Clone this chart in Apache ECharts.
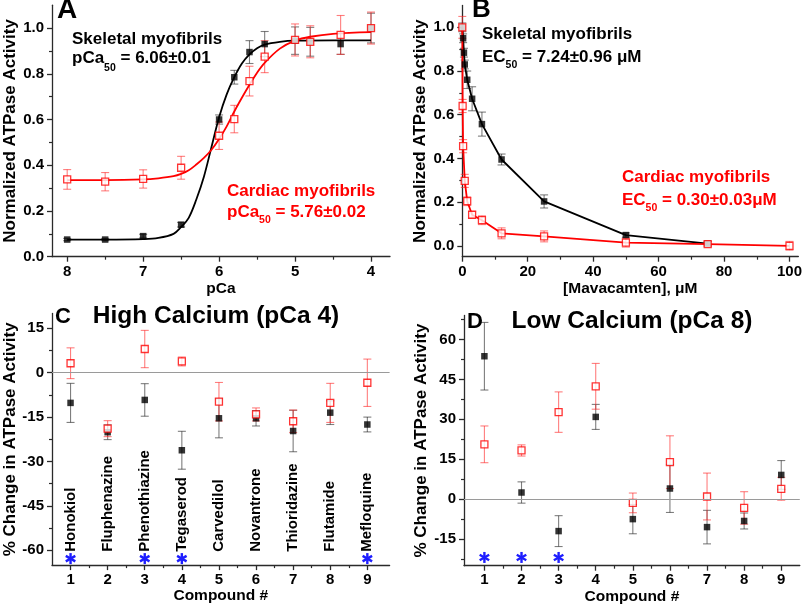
<!DOCTYPE html>
<html><head><meta charset="utf-8">
<script src="https://cdn.jsdelivr.net/npm/echarts@6/dist/echarts.min.js"></script>
<style>html,body{margin:0;padding:0;background:#fff}#c{width:805px;height:607px}</style>
</head><body><div id="c"></div>
<script>
// ---------- Panel A : ATPase vs pCa ----------
const pCaA      = [8, 7.5, 7, 6.5, 6, 5.8, 5.6, 5.4, 5, 4.8, 4.4, 4];
const skelA     = [0.075, 0.075, 0.09, 0.14, 0.60, 0.785, 0.895, 0.93, 0.945, 0.94, 0.93, 1.0];
const skelAErr  = [0.005, 0.005, 0.008, 0.01, 0.02, 0.03, 0.05, 0.055, 0.06, 0.063, 0.045, 0.065];
const cardA     = [0.338, 0.328, 0.34, 0.389, 0.529, 0.602, 0.768, 0.875, 0.948, 0.94, 0.97, 1.0];
const cardAErr  = [0.043, 0.04, 0.04, 0.05, 0.06, 0.06, 0.065, 0.07, 0.07, 0.07, 0.085, 0.07];
const skelFitX  = [8, 7.5, 7, 6.8, 6.6, 6.5, 6.4, 6.3, 6.2, 6.1, 6.0, 5.9, 5.8, 5.7, 5.6, 5.5, 5.4, 5.2, 5.0, 4.5, 4.0];
const skelFitY  = [0.075, 0.075, 0.077, 0.082, 0.1, 0.13, 0.17, 0.25, 0.35, 0.48, 0.61, 0.71, 0.785, 0.845, 0.885, 0.912, 0.928, 0.94, 0.945, 0.946, 0.946];
const cardFitX  = [8, 7.5, 7, 6.8, 6.6, 6.5, 6.4, 6.3, 6.2, 6.1, 6.0, 5.9, 5.8, 5.7, 5.6, 5.5, 5.4, 5.2, 5.0, 4.8, 4.5, 4.0];
const cardFitY  = [0.335, 0.335, 0.338, 0.343, 0.352, 0.362, 0.378, 0.403, 0.432, 0.468, 0.515, 0.57, 0.635, 0.695, 0.752, 0.805, 0.848, 0.91, 0.945, 0.962, 0.975, 0.982];
const ticksA_x  = [4, 5, 6, 7, 8];
const minorA_x  = [4.5, 5.5, 6.5, 7.5];
const ticksA_y  = [0, 0.2, 0.4, 0.6, 0.8, 1.0];
const minorA_y  = [0.1, 0.3, 0.5, 0.7, 0.9];

// ---------- Panel B : ATPase vs Mavacamten ----------
const mavaSkel  = [0, 0.25, 0.5, 0.75, 1.5, 3, 6, 12, 25, 50, 75];
const skelB     = [1.0, 0.95, 0.884, 0.83, 0.76, 0.673, 0.557, 0.395, 0.203, 0.049, 0.01];
const skelBErr  = [0.02, 0.02, 0.02, 0.02, 0.04, 0.055, 0.055, 0.025, 0.03, 0.01, 0.01];
const mavaCard  = [0, 0.1, 0.25, 0.75, 1.5, 3, 6, 12, 25, 50, 75, 100];
const cardB     = [1.0, 0.64, 0.456, 0.297, 0.204, 0.142, 0.117, 0.057, 0.043, 0.014, 0.008, 0.0];
const cardBErr  = [0.05, 0.03, 0.03, 0.03, 0.02, 0.015, 0.02, 0.025, 0.025, 0.02, 0.01, 0.02];
const ticksB_x  = [0, 20, 40, 60, 80, 100];
const minorB_x  = [10, 30, 50, 70, 90];
const ticksB_y  = [0, 0.2, 0.4, 0.6, 0.8, 1.0];
const minorB_y  = [0.1, 0.3, 0.5, 0.7, 0.9];

// ---------- Panels C / D : compound screen ----------
const compounds     = [1, 2, 3, 4, 5, 6, 7, 8, 9];
const compoundNames = ['Honokiol', 'Fluphenazine', 'Phenothiazine', 'Tegaserod', 'Carvedilol', 'Novantrone', 'Thioridazine', 'Flutamide', 'Mefloquine'];
const skelC     = [-10.2, -20.1, -9.2, -26.2, -15.4, -15.4, -19.7, -13.5, -17.5];
const skelCErr  = [6.6, 2.5, 5.5, 6.4, 6.6, 2.6, 7.0, 4.0, 2.5];
const cardC     = [3.2, -18.9, 8.0, 3.8, -9.8, -14.1, -16.4, -10.2, -3.4];
const cardCErr  = [5.2, 2.7, 6.3, 1.5, 6.5, 2.2, 3.8, 6.6, 8.0];
const sigC      = [1, 3, 4, 9];
const skelD     = [53.7, 2.5, -12.0, 30.9, -7.5, 4.0, -10.5, -8.2, 9.1];
const skelDErr  = [12.7, 4.0, 5.8, 4.7, 5.5, 9.0, 6.3, 3.0, 5.4];
const cardD     = [20.6, 18.3, 32.7, 42.4, -1.4, 13.9, 1.0, -3.3, 3.9];
const cardDErr  = [6.9, 2.1, 7.6, 8.6, 3.7, 9.9, 8.8, 6.1, 4.3];
const sigD      = [1, 2, 3];
const ticksCD_x = [1, 2, 3, 4, 5, 6, 7, 8, 9];
const minorCD_x = [1.5, 2.5, 3.5, 4.5, 5.5, 6.5, 7.5, 8.5];
const ticksC_y  = [-60, -45, -30, -15, 0, 15];
const minorC_y  = [-52.5, -37.5, -22.5, -7.5, 7.5];
const ticksD_y  = [-15, 0, 15, 30, 45, 60];
const minorD_y  = [-22.5, -7.5, 7.5, 22.5, 37.5, 52.5, 67.5];

// ---------- styling ----------
const FONT = '"Liberation Sans", Arial, Helvetica, sans-serif';
const AX = '#2a2a2a';
const RED = '#ff0000';
const RED_ERR = 'rgba(255,40,40,0.6)';
const BLK_ERR = 'rgba(40,40,40,0.6)';
const NAME_Y_C = -60.5;   // bottom anchor for rotated compound names
const STAR_Y_C = -62.8;
const STAR_Y_D = -21.9;

function axisPair(dim, grid, o) {
  const pos = dim === 'x' ? 'bottom' : 'left';
  const main = {
    type: 'value', gridIndex: grid, min: o.min, max: o.max, inverse: !!o.inverse, position: pos,
    axisLine: { show: true, onZero: false, lineStyle: { color: AX, width: 1.3 } },
    axisTick: { show: true, inside: false, length: 5, customValues: o.majors, lineStyle: { color: AX, width: 1.3 } },
    axisLabel: { show: true, customValues: o.majors, formatter: o.fmt, margin: o.margin,
      color: '#000', fontFamily: FONT, fontWeight: 'bold', fontSize: 15 },
    splitLine: { show: false },
    name: o.name, nameLocation: 'middle', nameGap: o.nameGap,
    nameTextStyle: { color: '#000', fontFamily: FONT, fontWeight: 'bold', fontSize: o.nameSize }
  };
  const minor = {
    type: 'value', gridIndex: grid, min: o.min, max: o.max, inverse: !!o.inverse, position: pos, offset: 0,
    axisLine: { show: false, onZero: false },
    axisTick: { show: true, inside: false, length: 3, customValues: o.minors, lineStyle: { color: AX, width: 1.2 } },
    axisLabel: { show: false }, splitLine: { show: false }
  };
  return [main, minor];
}
const f1 = v => v.toFixed(1);
const f0 = v => String(v);

const xAxes = [].concat(
  axisPair('x', 0, { min: 3.75, max: 8.2, inverse: true, majors: ticksA_x, minors: minorA_x, fmt: f0, margin: 8, name: 'pCa', nameGap: 20, nameSize: 15.5 }),
  axisPair('x', 1, { min: 0, max: 102.7, majors: ticksB_x, minors: minorB_x, fmt: f0, margin: 8, name: '[Mavacamten], μM', nameGap: 20, nameSize: 15.5 }),
  axisPair('x', 2, { min: 0.5, max: 9.6, majors: ticksCD_x, minors: minorCD_x, fmt: f0, margin: 7, name: 'Compound #', nameGap: 21, nameSize: 15.5 }),
  axisPair('x', 3, { min: 0.45, max: 9.5, majors: ticksCD_x, minors: minorCD_x, fmt: f0, margin: 7, name: 'Compound #', nameGap: 21, nameSize: 15.5 })
);
const yAxes = [].concat(
  axisPair('y', 0, { min: 0, max: 1.1, majors: ticksA_y, minors: minorA_y, fmt: f1, margin: 8, name: 'Normalized ATPase Activity', nameGap: 31, nameSize: 17 }),
  axisPair('y', 1, { min: -0.05, max: 1.1, majors: ticksB_y, minors: minorB_y, fmt: f1, margin: 8, name: 'Normalized ATPase Activity', nameGap: 33, nameSize: 17 }),
  axisPair('y', 2, { min: -65, max: 20, majors: ticksC_y, minors: minorC_y, fmt: f0, margin: 8, name: '% Change in ATPase Activity', nameGap: 31, nameSize: 17 }),
  axisPair('y', 3, { min: -25, max: 69, majors: ticksD_y, minors: minorD_y, fmt: f0, margin: 8, name: '% Change in ATPase Activity', nameGap: 34, nameSize: 17 })
);

function errRender(color) {
  return function (params, api) {
    const x = api.value(0), lo = api.value(1), hi = api.value(2);
    const p1 = api.coord([x, lo]), p2 = api.coord([x, hi]);
    const w = 4;
    const st = { stroke: color, lineWidth: 1.1 };
    return { type: 'group', children: [
      { type: 'line', shape: { x1: p1[0], y1: p1[1], x2: p2[0], y2: p2[1] }, style: st },
      { type: 'line', shape: { x1: p1[0] - w, y1: p1[1], x2: p1[0] + w, y2: p1[1] }, style: st },
      { type: 'line', shape: { x1: p2[0] - w, y1: p2[1], x2: p2[0] + w, y2: p2[1] }, style: st }
    ] };
  };
}
function starRender(params, api) {
  const p = api.coord([api.value(0), api.value(1)]);
  const r = 5.5, kids = [];
  for (let k = 0; k < 3; k++) {
    const a = Math.PI / 2 + k * Math.PI / 3;
    kids.push({ type: 'line', shape: { x1: p[0] + r * Math.cos(a), y1: p[1] + r * Math.sin(a), x2: p[0] - r * Math.cos(a), y2: p[1] - r * Math.sin(a) },
      style: { stroke: '#1e1eff', lineWidth: 2.4 } });
  }
  return { type: 'group', children: kids };
}
function nameRender(params, api) {
  const p = api.coord([api.value(0), NAME_Y_C]);
  return { type: 'text', x: p[0], y: p[1], rotation: Math.PI / 2,
    style: { text: compoundNames[params.dataIndex], fontFamily: FONT, fontWeight: 'bold', fontSize: 15, fill: '#000', align: 'left', verticalAlign: 'middle' } };
}
const errData = (xs, ys, es) => xs.map((x, i) => [x, ys[i] - es[i], ys[i] + es[i]]);
const pts = (xs, ys) => xs.map((x, i) => [x, ys[i]]);

function errSeries(ax, xs, ys, es, color) {
  return { type: 'custom', xAxisIndex: ax, yAxisIndex: ax, renderItem: errRender(color), encode: { x: 0, y: [1, 2] },
    data: errData(xs, ys, es), z: 1, silent: true, clip: false };
}
function blackPts(ax, xs, ys) {
  return { type: 'scatter', xAxisIndex: ax, yAxisIndex: ax, data: pts(xs, ys), symbol: 'rect', symbolSize: 6.5,
    itemStyle: { color: '#000' }, z: 3, silent: true, clip: false };
}
function redPts(ax, xs, ys) {
  return { type: 'scatter', xAxisIndex: ax, yAxisIndex: ax, data: pts(xs, ys), symbol: 'rect', symbolSize: 7,
    itemStyle: { color: '#fff', borderColor: RED, borderWidth: 1.3 }, z: 4, silent: true, clip: false };
}
function zeroLine(ax) {
  return { type: 'line', xAxisIndex: ax, yAxisIndex: ax, data: [], silent: true,
    markLine: { silent: true, symbol: ['none', 'none'], label: { show: false }, lineStyle: { color: '#9a9a9a', width: 1, type: 'solid' }, data: [{ yAxis: 0 }] }, z: 0 };
}

const series = [
  // A
  errSeries(0, pCaA, skelA, skelAErr, BLK_ERR),
  errSeries(0, pCaA, cardA, cardAErr, RED_ERR),
  { type: 'line', xAxisIndex: 0, yAxisIndex: 0, data: pts(skelFitX, skelFitY), smooth: 0.35, showSymbol: false, lineStyle: { color: '#000', width: 1.8 }, z: 2, silent: true },
  { type: 'line', xAxisIndex: 0, yAxisIndex: 0, data: pts(cardFitX, cardFitY), smooth: 0.35, showSymbol: false, lineStyle: { color: RED, width: 1.8 }, z: 2, silent: true },
  blackPts(0, pCaA, skelA),
  redPts(0, pCaA, cardA),
  // B
  errSeries(2, mavaSkel, skelB, skelBErr, BLK_ERR),
  errSeries(2, mavaCard, cardB, cardBErr, RED_ERR),
  { type: 'line', xAxisIndex: 2, yAxisIndex: 2, data: pts(mavaSkel, skelB), showSymbol: false, lineStyle: { color: '#000', width: 1.8 }, z: 2, silent: true, clip: false },
  { type: 'line', xAxisIndex: 2, yAxisIndex: 2, data: pts(mavaCard, cardB), showSymbol: false, lineStyle: { color: RED, width: 1.8 }, z: 2, silent: true, clip: false },
  blackPts(2, mavaSkel, skelB),
  redPts(2, mavaCard, cardB),
  // C
  zeroLine(4),
  errSeries(4, compounds, skelC, skelCErr, BLK_ERR),
  errSeries(4, compounds, cardC, cardCErr, RED_ERR),
  blackPts(4, compounds, skelC),
  redPts(4, compounds, cardC),
  { type: 'custom', xAxisIndex: 4, yAxisIndex: 4, renderItem: nameRender, data: compounds.map(c => [c]), encode: { x: 0 }, silent: true, clip: false, z: 5 },
  { type: 'custom', xAxisIndex: 4, yAxisIndex: 4, renderItem: starRender, data: sigC.map(c => [c, STAR_Y_C]), encode: { x: 0, y: 1 }, silent: true, clip: false, z: 5 },
  // D
  zeroLine(6),
  errSeries(6, compounds, skelD, skelDErr, BLK_ERR),
  errSeries(6, compounds, cardD, cardDErr, RED_ERR),
  blackPts(6, compounds, skelD),
  redPts(6, compounds, cardD),
  { type: 'custom', xAxisIndex: 6, yAxisIndex: 6, renderItem: starRender, data: sigD.map(c => [c, STAR_Y_D]), encode: { x: 0, y: 1 }, silent: true, clip: false, z: 5 }
];

function label(x, y, text, size, color, align) {
  return { type: 'text', x: x, y: y, silent: true, z: 10,
    style: { text: text, fontFamily: FONT, fontWeight: 'bold', fontSize: size, fill: color, align: align || 'left', verticalAlign: 'middle' } };
}
function subLabel(x, y, pre, sub, post, color, lh) {
  return { type: 'text', x: x, y: y, silent: true, z: 10,
    style: { text: '{a|' + pre + '}{s|' + sub + '}{a|' + post + '}', align: 'left', verticalAlign: 'middle',
      rich: {
        a: { fontFamily: FONT, fontWeight: 'bold', fontSize: 17, fill: color, lineHeight: lh },
        s: { fontFamily: FONT, fontWeight: 'bold', fontSize: 10.5, fill: color, lineHeight: 11, verticalAlign: 'bottom' }
      } } };
}

const graphic = [
  label(57, 10, 'A', 28, '#000'),
  label(472, 10, 'B', 26, '#000'),
  label(55, 317, 'C', 22, '#000'),
  label(467, 321.5, 'D', 22, '#000'),
  label(216, 316, 'High Calcium (pCa 4)', 24.5, '#000', 'center'),
  label(632, 321, 'Low Calcium (pCa 8)', 24.5, '#000', 'center'),
  label(72, 39, 'Skeletal myofibrils', 17, '#000'),
  subLabel(72, 58, 'pCa', '50', ' = 6.06±0.01', '#000', 32),
  label(227, 191, 'Cardiac myofibrils', 17, RED),
  subLabel(227, 212, 'pCa', '50', ' = 5.76±0.02', RED, 28),
  label(482, 34, 'Skeletal myofibrils', 17, '#000'),
  subLabel(482, 57, 'EC', '50', ' = 7.24±0.96 μM', '#000', 28),
  label(622, 177.5, 'Cardiac myofibrils', 17, RED),
  subLabel(622, 200, 'EC', '50', ' = 0.30±0.03μM', RED, 28)
];

const chart = echarts.init(document.getElementById('c'), null, { renderer: 'canvas' });
chart.setOption({
  animation: false,
  backgroundColor: '#fff',
  grid: [
    { left: 52, top: 5.2, width: 338, height: 251.5 },
    { left: 462.3, top: 5.5, width: 337.7, height: 251.2 },
    { left: 52, top: 313.5, width: 337.6, height: 251.6 },
    { left: 464, top: 315.5, width: 335.8, height: 250.2 }
  ],
  xAxis: xAxes,
  yAxis: yAxes,
  series: series,
  graphic: graphic
});
</script></body></html>
